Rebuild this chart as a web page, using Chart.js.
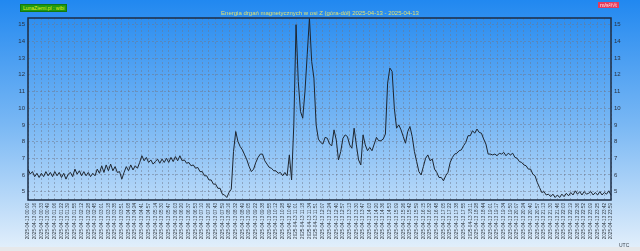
<!DOCTYPE html>
<html>
<head>
<meta charset="utf-8">
<script src="https://cdn.jsdelivr.net/npm/chart.js@4/dist/chart.umd.min.js"></script>
<style>
  body { margin: 0; background: #fff; }
  #wrap { position: relative; width: 640px; height: 251px; overflow: hidden; }
  canvas { display: block; }
  .badge { position: absolute; font-family: "Liberation Sans", Arial, sans-serif; font-size: 5px; line-height: 6px; padding: 0 2px; white-space: nowrap; }
  #site { left: 20px; top: 4px; background: #1f9a12; color: #e4f21c; border: 1px solid #157a0c; }
  #unit { left: 598px; top: 2px; background: #e43c5c; color: #fff0f0; font-size: 5.5px; }
  #utc { position: absolute; left: 619px; top: 242px; font-family: "Liberation Sans", Arial, sans-serif; font-size: 5px; color: #404850; }
</style>
</head>
<body>
<div id="wrap">
  <canvas id="chart" width="640" height="251"></canvas>
  <div class="badge" id="site">LunaZiemi.pl : wibi</div>
  <div class="badge" id="unit">m/s²/√t</div>
  <div id="utc">UTC</div>
</div>
<script>
// etykiety osi X (co ~16.5 min)
const tickTimes = [
  '00:00','00:16','00:33','00:49','01:06','01:22','01:39','01:55','02:12','02:28',
  '02:45','03:01','03:18','03:35','03:51','04:08','04:24','04:41','04:57','05:14',
  '05:30','05:47','06:03','06:20','06:37','06:53','07:10','07:26','07:43','07:59',
  '08:16','08:32','08:49','09:05','09:22','09:38','09:55','10:12','10:28','10:45',
  '11:01','11:18','11:34','11:51','12:07','12:24','12:40','12:57','13:13','13:30',
  '13:47','14:03','14:20','14:36','14:53','15:09','15:26','15:42','15:59','16:15',
  '16:32','16:48','17:05','17:22','17:38','17:55','18:11','18:28','18:44','19:01',
  '19:17','19:34','19:50','20:07','20:24','20:40','20:57','21:13','21:30','21:46',
  '22:03','22:19','22:36','22:52','23:09','23:25','23:42','23:59'
];
const dateLabel = '2025-04-13';

// energia drgań, 3 próbki na jedną etykietę
const energy = [
  6.35,6.05,6.2,5.9,6.1,5.85,6.1,5.9,6.2,5.95,
  6.15,5.9,6.2,5.95,6.15,5.85,6.1,5.75,6.05,6.15,
  5.9,6.35,6.05,6.25,5.95,6.2,5.95,6.15,5.9,6.1,
  5.95,6.35,6.1,6.55,6.15,6.6,6.25,6.65,6.25,6.5,
  6.15,6.2,5.75,6.15,6.5,6.25,6.6,6.3,6.55,6.4,
  6.75,7.15,6.85,7.05,6.75,6.9,6.65,6.8,6.95,6.7,
  6.95,6.75,7.0,6.75,7.05,6.8,7.1,6.85,7.15,6.85,
  6.9,6.7,6.75,6.55,6.6,6.4,6.45,6.2,6.2,5.95,
  5.95,5.7,5.7,5.45,5.45,5.2,5.2,4.85,4.8,4.65,
  4.95,5.15,7.4,8.6,8.0,7.7,7.5,7.2,6.9,6.5,
  6.2,6.35,6.75,7.05,7.25,7.25,6.85,6.65,6.45,6.4,
  6.25,6.25,6.1,6.15,5.95,6.15,5.95,7.2,5.7,9.0,
  15.0,11.6,9.8,9.4,11.0,13.2,15.4,12.8,11.8,9.0,
  8.15,7.95,7.85,8.25,8.2,7.85,7.75,8.7,8.1,6.9,
  7.4,8.2,8.4,8.3,7.8,7.6,8.8,7.8,6.9,6.6,
  8.4,7.8,7.45,7.65,7.45,7.85,8.25,8.05,8.05,8.15,
  8.45,11.5,12.4,12.2,10.0,8.8,9.0,8.7,8.3,7.9,
  8.6,8.9,8.3,7.4,6.8,6.2,6.0,6.5,7.0,7.2,
  6.85,6.95,6.35,6.15,5.85,5.85,5.65,5.95,6.15,6.75,
  7.05,7.25,7.3,7.45,7.5,7.75,7.95,8.35,8.35,8.65,
  8.5,8.75,8.55,8.5,8.15,7.85,7.25,7.25,7.2,7.25,
  7.15,7.3,7.25,7.35,7.15,7.3,7.2,7.3,7.05,7.0,
  6.8,6.75,6.6,6.55,6.35,6.35,6.05,5.95,5.55,5.25,
  4.95,5.0,4.8,4.85,4.7,4.85,4.65,4.8,4.65,4.85,
  4.7,4.9,4.75,4.95,4.8,5.05,4.85,5.0,4.8,5.0,
  4.85,4.9,5.0,4.8,4.95,4.8,5.0,4.8,4.95,4.85,
  5.05,4.8
];
const samplesPerTick = 3;

const yTicks = [5, 6, 7, 8, 9, 10, 11, 12, 13, 14, 15];
const yMin = 4.5;
const yMax = 15.4;

const gridColor = 'rgba(110,120,140,0.5)';
const tickFont = { family: 'Liberation Sans, Arial, sans-serif', size: 6 };

const backgroundPlugin = {
    id: 'background',
    beforeDraw(chart) {
        const { ctx, width, height } = chart;
        const grad = ctx.createLinearGradient(0, 0, 0, height);
        grad.addColorStop(0, '#2188f0');
        grad.addColorStop(0.5, '#7ab8f4');
        grad.addColorStop(1, '#e4f0fb');
        ctx.save();
        ctx.fillStyle = grad;
        ctx.fillRect(0, 0, width, height);
        ctx.fillStyle = '#e6e8ea';
        ctx.fillRect(0, height - 4, width, 4);
        ctx.restore();
    }
};

const framePlugin = {
    id: 'frame',
    afterDatasetsDraw(chart) {
        const { ctx, chartArea: a } = chart;
        ctx.save();
        ctx.strokeStyle = '#1c2c44';
        ctx.lineWidth = 1.5;
        ctx.strokeRect(a.left, a.top, a.right - a.left, a.bottom - a.top);
        ctx.restore();
    }
};

function yAxis(position, width) {
    return {
        type: 'linear',
        position: position,
        min: yMin,
        max: yMax,
        afterBuildTicks: scale => { scale.ticks = yTicks.map(v => ({ value: v })); },
        afterFit: scale => { scale.width = width; },
        grid: {
            display: position === 'left',
            color: gridColor,
            lineWidth: 1,
            drawTicks: false
        },
        border: { display: false, dash: [2, 2] },
        ticks: {
            color: '#2a3240',
            font: tickFont,
            padding: 3,
            callback: v => String(v)
        }
    };
}

new Chart(document.getElementById('chart'), {
    type: 'line',
    data: {
        datasets: [{
            data: energy.map((v, i) => ({ x: i / samplesPerTick, y: v })),
            borderColor: '#1e2630',
            borderWidth: 1,
            pointRadius: 0,
            tension: 0,
            yAxisID: 'y'
        }]
    },
    options: {
        responsive: false,
        animation: false,
        layout: { padding: 0 },
        plugins: {
            legend: { display: false },
            tooltip: { enabled: false },
            title: {
                display: true,
                text: 'Energia drgań magnetycznych w osi Z (góra-dół) 2025-04-13 - 2025-04-13',
                color: '#e0e070',
                font: { family: 'Liberation Sans, Arial, sans-serif', size: 6, weight: 'normal', lineHeight: 1 },
                padding: { top: 10, bottom: 2 }
            }
        },
        scales: {
            x: {
                type: 'linear',
                min: 0,
                max: tickTimes.length - 1,
                afterBuildTicks: scale => { scale.ticks = tickTimes.map((_, i) => ({ value: i })); },
                afterFit: scale => { scale.height = 51; },
                grid: {
                    color: gridColor,
                    lineWidth: 1,
                    drawTicks: false
                },
                border: { display: false, dash: [2, 2] },
                ticks: {
                    color: '#303840',
                    font: { family: 'Liberation Sans, Arial, sans-serif', size: 4.6 },
                    minRotation: 90,
                    maxRotation: 90,
                    autoSkip: false,
                    padding: 3,
                    callback: (v, i) => dateLabel + ' ' + tickTimes[i]
                }
            },
            y: yAxis('left', 28),
            y2: Object.assign(yAxis('right', 29), { display: true })
        }
    },
    plugins: [backgroundPlugin, framePlugin]
});
</script>
</body>
</html>
